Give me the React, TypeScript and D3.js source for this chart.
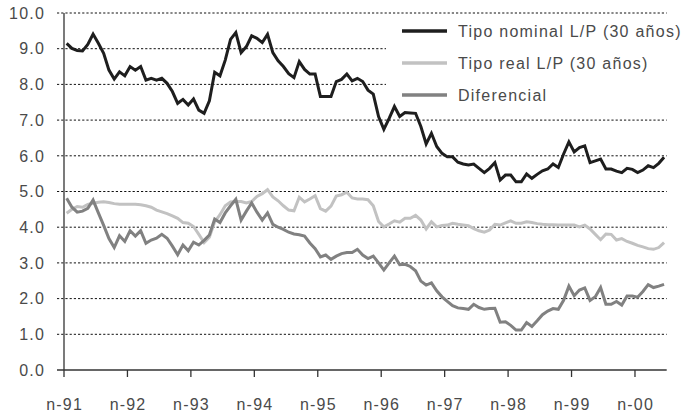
import React from "react";
import * as d3 from "d3";

const W = 688;
const H = 416;

const tickLabels = ["n-91", "n-92", "n-93", "n-94", "n-95", "n-96", "n-97", "n-98", "n-99", "n-00"];
const yTicks = [0, 1, 2, 3, 4, 5, 6, 7, 8, 9, 10];

const nominal = [
  9.15, 9.01, 8.95, 8.94, 9.12, 9.41, 9.15, 8.87, 8.40, 8.15,
  8.35, 8.24, 8.50, 8.40, 8.50, 8.12, 8.17, 8.12, 8.17, 8.03,
  7.80, 7.47, 7.58, 7.42, 7.59, 7.28, 7.19, 7.54, 8.34, 8.24,
  8.68, 9.26, 9.45, 8.89, 9.06, 9.36, 9.29, 9.17, 9.40, 8.89,
  8.66, 8.50, 8.30, 8.19, 8.64, 8.42, 8.29, 8.29, 7.66, 7.66,
  7.66, 8.08, 8.14, 8.29, 8.10, 8.17, 8.08, 7.84, 7.73, 7.10,
  6.74, 7.05, 7.38, 7.10, 7.21, 7.20, 7.19, 6.82, 6.33, 6.63,
  6.26, 6.07, 5.97, 5.97, 5.82, 5.77, 5.74, 5.77, 5.65, 5.53,
  5.65, 5.81, 5.32, 5.46, 5.46, 5.27, 5.27, 5.49, 5.37, 5.48,
  5.58, 5.63, 5.77, 5.67, 6.05, 6.39, 6.11, 6.23, 6.28, 5.81,
  5.86, 5.91, 5.63, 5.63, 5.57, 5.53, 5.65, 5.62, 5.53, 5.60,
  5.72, 5.67, 5.79, 5.96,
];

const real = [
  4.39, 4.50, 4.58, 4.56, 4.64, 4.67, 4.70, 4.71, 4.69, 4.66,
  4.64, 4.64, 4.64, 4.64, 4.63, 4.60, 4.56, 4.48, 4.43, 4.38,
  4.32, 4.25, 4.13, 4.11, 4.02, 3.80, 3.57, 3.72, 4.15, 4.35,
  4.60, 4.71, 4.72, 4.72, 4.68, 4.72, 4.86, 4.94, 5.05, 4.85,
  4.74, 4.60, 4.48, 4.46, 4.84, 4.71, 4.79, 4.88, 4.52, 4.45,
  4.59, 4.87, 4.91, 4.98, 4.82, 4.79, 4.79, 4.77, 4.60, 4.16,
  4.01, 4.09, 4.18, 4.14, 4.25, 4.25, 4.33, 4.20, 3.95, 4.15,
  4.01, 4.05, 4.06, 4.11, 4.08, 4.06, 4.04, 3.96, 3.90, 3.86,
  3.92, 4.08, 4.06, 4.12, 4.18, 4.11, 4.11, 4.15, 4.13, 4.10,
  4.08, 4.07, 4.07, 4.06, 4.06, 4.06, 4.06, 4.01, 4.06, 3.95,
  3.80, 3.65, 3.81, 3.80, 3.64, 3.68, 3.60, 3.55, 3.49, 3.45,
  3.40, 3.38, 3.43, 3.57,
];

const diferencial = [
  4.81, 4.56, 4.42, 4.45, 4.53, 4.76, 4.40, 4.05, 3.68, 3.43,
  3.76, 3.60, 3.90, 3.75, 3.90, 3.55, 3.64, 3.69, 3.80, 3.69,
  3.47, 3.23, 3.50, 3.34, 3.58, 3.50, 3.63, 3.78, 4.23, 4.13,
  4.40, 4.60, 4.78, 4.20, 4.45, 4.68, 4.42, 4.20, 4.40, 4.08,
  4.00, 3.94, 3.86, 3.81, 3.79, 3.75, 3.56, 3.40, 3.17, 3.22,
  3.10, 3.19, 3.26, 3.29, 3.29, 3.38, 3.22, 3.12, 3.19, 3.00,
  2.80, 3.00, 3.19, 2.95, 2.96, 2.90, 2.78, 2.49, 2.38, 2.44,
  2.22, 2.05, 1.92, 1.80, 1.74, 1.72, 1.70, 1.84, 1.75, 1.70,
  1.72, 1.73, 1.34, 1.35, 1.25, 1.12, 1.12, 1.33, 1.22, 1.38,
  1.55, 1.65, 1.72, 1.70, 1.95, 2.35, 2.08, 2.24, 2.30, 1.95,
  2.05, 2.31, 1.84, 1.84, 1.92, 1.82, 2.07, 2.07, 2.04, 2.20,
  2.39, 2.31, 2.35, 2.40,
];

const seriesNames = ["Tipo nominal L/P (30 años)", "Tipo real L/P (30 años)", "Diferencial"];
const seriesColors = ["#1e1e1e", "#c2c2c2", "#818181"];
const seriesData = [nominal, real, diferencial];

const FONT = "'Liberation Sans', Arial, sans-serif";
const TEXT_COLOR = "#4a4a4a";

export default function App() {
  const N = nominal.length;
  const x = d3.scaleLinear().domain([0, N]).range([64, 666.7]);
  const y = d3.scaleLinear().domain([0, 10]).range([370, 13]);

  const line = d3
    .line<number>()
    .x((_, i) => x(i + 0.5))
    .y((d) => y(d))
    .curve(d3.curveLinear);

  const tickIdx = tickLabels.map((_, k) => k * 12);

  return (
    <svg
      width={W}
      height={H}
      style={{ position: "absolute", left: 0, top: 0, background: "#fff" }}
      fontFamily={FONT}
    >
      {/* gridlines */}
      {yTicks.filter((t) => t > 0).map((t) => (
        <line
          key={"g" + t}
          x1={57}
          x2={x(N)}
          y1={y(t)}
          y2={y(t)}
          stroke="#111"
          strokeWidth={1}
          strokeDasharray="2.2,2"
        />
      ))}

      {/* legend background */}
      <rect x={386} y={17} width={302} height={87} fill="#fff" />

      {/* y labels */}
      {yTicks.map((t) => (
        <text
          key={"yl" + t}
          x={45}
          y={y(t)}
          dy="0.36em"
          textAnchor="end"
          fontSize={16}
          letterSpacing={1.2}
          fill={TEXT_COLOR}
        >
          {t.toFixed(1)}
        </text>
      ))}

      {/* axes */}
      <line x1={57} x2={x(N)} y1={y(0)} y2={y(0)} stroke="#333" strokeWidth={1.3} />
      <line x1={x(0)} x2={x(0)} y1={y(10)} y2={y(0)} stroke="#333" strokeWidth={1.3} />
      {tickIdx.map((i, k) => (
        <g key={"xt" + k}>
          <line x1={x(i)} x2={x(i)} y1={y(0)} y2={y(0) + 7} stroke="#333" strokeWidth={1.3} />
          <text
            x={x(i) + 0.6}
            y={410}
            textAnchor="middle"
            fontSize={16}
            letterSpacing={1.2}
            fill={TEXT_COLOR}
          >
            {tickLabels[k]}
          </text>
        </g>
      ))}

      {/* series */}
      {seriesData.map((s, k) => (
        <path
          key={"s" + k}
          d={line(s) || ""}
          fill="none"
          stroke={seriesColors[k]}
          strokeWidth={3}
          strokeLinejoin="miter"
          strokeMiterlimit={3}
        />
      ))}

      {/* legend */}
      {seriesNames.map((name, k) => (
        <g key={"lg" + k} transform={`translate(0, ${31 + k * 32})`}>
          <line x1={402} x2={447} y1={0} y2={0} stroke={seriesColors[k]} strokeWidth={3.5} />
          <text x={458} y={0} dy="0.36em" fontSize={16} letterSpacing={1.25} fill={TEXT_COLOR}>
            {name}
          </text>
        </g>
      ))}
    </svg>
  );
}
